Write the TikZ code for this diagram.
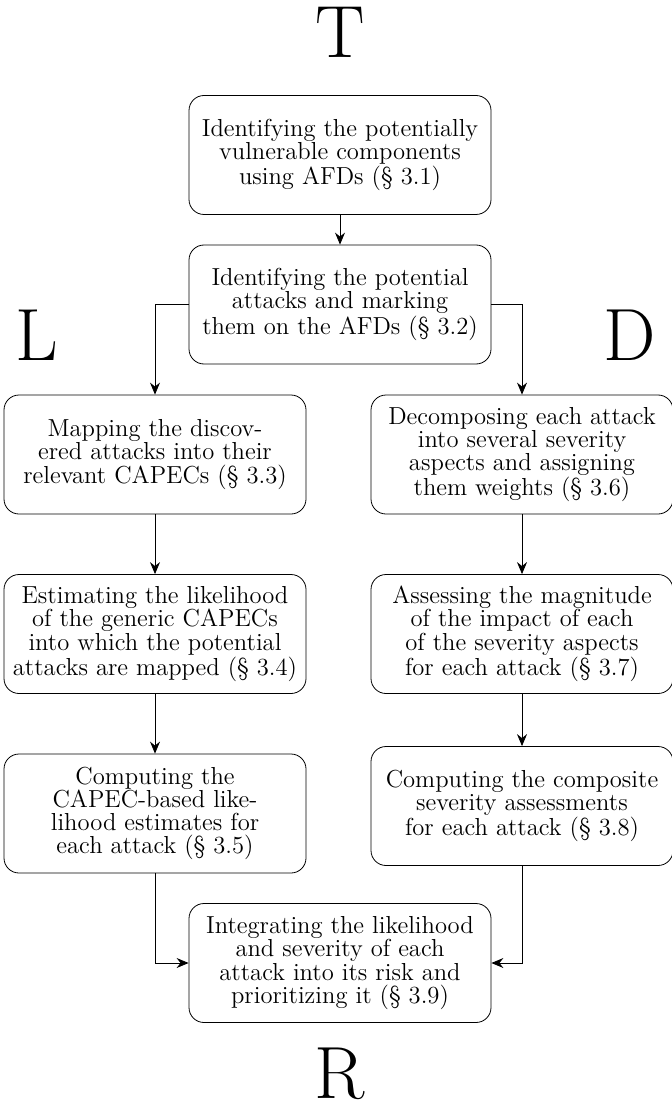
\documentclass[tikz,border=0pt]{standalone}
\usetikzlibrary{arrows.meta}
\begin{document}
\begin{tikzpicture}[x=0.5pt,y=-0.5pt]

\tikzset{block/.style = {shape=rectangle,draw,rounded corners=7.5pt,align=center,minimum width=151pt,minimum height=59.5pt,inner sep=0pt,font=\fontsize{12.3}{11.6}\selectfont}}
\tikzset{edge/.style = {->,> = {Stealth[length=6pt,width=5pt,inset=2pt]}}}
\tikzset{letter/.style = {anchor=base,inner sep=0pt,font=\fontsize{37}{40}\selectfont}}

\useasboundingbox (0,0) rectangle (672,1117);

\node[letter] (T) at (340,58) {T};
\node[letter] (L) at (37,360) {L};
\node[letter] (D) at (630,360) {D};
\node[letter] (R) at (340,1098) {R};

\node[block] (1) at (340,155) {Identifying the potentially\\vulnerable components\\using AFDs (\S~3.1)};
\node[block] (2) at (340,304.5) {Identifying the potential\\attacks and marking\\them on the AFDs (\S~3.2)};
\node[block] (3) at (155,454.5) {Mapping the discov-\\ered attacks into their\\relevant CAPECs (\S~3.3)};
\node[block] (4) at (155,634) {Estimating the likelihood\\of the generic CAPECs\\into which the potential\\attacks are mapped (\S~3.4)};
\node[block] (5) at (155,813.5) {Computing the\\CAPEC-based like-\\lihood estimates for\\each attack (\S~3.5)};
\node[block] (6) at (522,454.5) {Decomposing each attack\\into several severity\\aspects and assigning\\them weights (\S~3.6)};
\node[block] (7) at (522,634) {Assessing the magnitude\\of the impact of each\\of the severity aspects\\for each attack (\S~3.7)};
\node[block] (8) at (522,806) {Computing the composite\\severity assessments\\for each attack (\S~3.8)};
\node[block] (9) at (340,963) {Integrating the likelihood\\and severity of each\\attack into its risk and\\prioritizing it (\S~3.9)};

%edges
\draw[edge] (1) to (2);
\draw[edge] (2.west) -| (3.north);
\draw[edge] (2.east) -| (6.north);
\draw[edge] (3) to (4);
\draw[edge] (4) to (5);
\draw[edge] (6) to (7);
\draw[edge] (7) to (8);
\draw[edge] (5.south) |- (9.west);
\draw[edge] (8.south) |- (9.east);
\end{tikzpicture}
\end{document}
